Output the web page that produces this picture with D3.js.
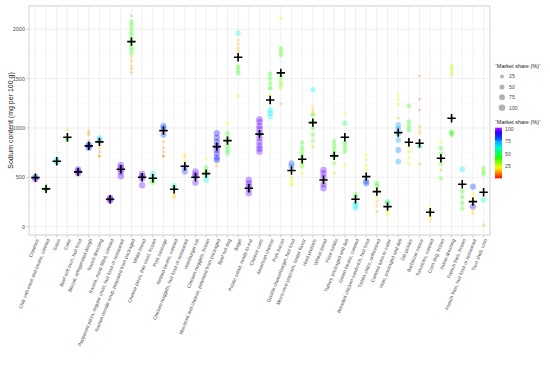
<!DOCTYPE html>
<html>
<head>
<meta charset="utf-8">
<script src="https://cdn.jsdelivr.net/npm/d3@7"></script>
<style>
  body { margin: 0; background: #fff; }
  text { font-family: "Liberation Sans", Arial, sans-serif; }
</style>
</head>
<body>
<svg id="canvas" width="550" height="365"></svg>
<script>
// food categories, left to right
const categories = [
  "Cheerios", "Chili with meat and beans, canned", "Salsa", "Cake",
  "Beef soft taco, fast food", "Biscuit, refrigerated dough", "Ranch dressing",
  "Ravioli, meat-filled, canned", "Pepperoni pizza, regular crust, fast food or restaurant",
  "Ramen noodle soup, prepared from packaged", "White bread",
  "Cheese pizza, thin crust, frozen", "Pork sausage", "Refried beans, canned",
  "Chicken nuggets, fast food or restaurant", "Hamburger roll", "Chicken nuggets, frozen",
  "Macaroni and cheese, prepared from packaged", "Beef hot dog", "Bagel",
  "Potato salad, ready-to-eat", "Cheese curls", "American cheese", "Pork bacon",
  "Double cheeseburger, fast food", "Microwave popcorn, butter flavor", "Hard pretzels",
  "Wheat bread", "Flour tortilla", "Turkey, packaged and deli", "Green beans, canned",
  "Breaded chicken sandwich, fast food", "Tortilla chips, unflavored", "Canned tuna in water",
  "Ham, packaged and deli", "Dill pickles", "Barbecue sauce", "Tomatoes, canned",
  "Corn dog, frozen", "Italian dressing", "French fries, frozen",
  "French fries, fast food or restaurant", "Taco shell, corn"
];

// market-share weighted mean sodium per category (black crosses)
const means = [
  497, 382, 663, 906, 555, 818, 859, 278, 582, 1875,
  501, 490, 973, 379, 612, 501, 537, 811, 872, 1717,
  389, 937, 1284, 1558, 568, 683, 1054, 473, 717, 906,
  278, 507, 355, 203, 953, 855, 845, 146, 693, 1099,
  430, 253, 349
];

// individual products per category: [sodium mg/100 g, market share %]
const products = [
  [[480, 99], [500, 97], [508, 60]],
  [[385, 48], [375, 40], [380, 30]],
  [[680, 70], [660, 68], [650, 60]],
  [[880, 45], [900, 42], [987, 20]],
  [[540, 97], [560, 99], [580, 95]],
  [[800, 90], [820, 82], [830, 87], [970, 15], [950, 14], [930, 12], [870, 10]],
  [[896, 70], [870, 72], [850, 15], [800, 14], [760, 12], [720, 12], [710, 10]],
  [[265, 99], [280, 98], [290, 96]],
  [[625, 97], [600, 98], [580, 96], [550, 97], [510, 96]],
  [[2078, 40], [2040, 42], [2000, 38], [1960, 45], [1920, 40], [1880, 42], [1840, 38],
   [1800, 44], [1758, 40], [1723, 16], [1680, 14], [1630, 15], [1600, 12], [1561, 14], [2136, 10]],
  [[534, 97], [510, 98], [490, 96], [420, 97]],
  [[534, 70], [500, 60], [470, 45], [446, 42]],
  [[1021, 84], [1000, 82], [930, 82], [860, 14], [800, 12], [760, 13], [720, 12], [710, 10]],
  [[416, 65], [390, 40], [338, 20], [318, 18], [298, 16]],
  [[600, 82], [558, 84], [727, 18], [700, 20], [659, 22]],
  [[558, 97], [530, 98], [507, 97], [446, 96]],
  [[683, 22], [600, 40], [560, 45], [520, 60], [473, 68]],
  [[947, 88], [900, 90], [860, 87], [820, 89], [780, 92], [740, 88], [700, 86], [676, 88], [615, 14]],
  [[1048, 22], [947, 40], [900, 42], [860, 38], [820, 40], [780, 45], [744, 42]],
  [[1960, 60], [1893, 16], [1850, 14], [1810, 15], [1774, 16], [1622, 40], [1590, 38], [1555, 42], [1325, 20]],
  [[473, 97], [440, 98], [410, 96], [380, 96], [339, 97]],
  [[1089, 97], [1060, 98], [1020, 96], [990, 97], [950, 96], [900, 98], [860, 96], [820, 97], [790, 96], [760, 96]],
  [[1548, 45], [1500, 42], [1450, 40], [1403, 44], [1335, 22], [1183, 65], [1150, 68], [1115, 66]],
  [[2112, 20], [1808, 40], [1774, 38], [1740, 40], [1521, 40], [1480, 35], [1440, 38], [1403, 30], [1244, 15]],
  [[643, 82], [610, 80], [507, 25], [470, 24], [440, 22], [423, 20]],
  [[852, 40], [800, 42], [760, 38], [720, 42], [680, 40], [640, 36], [608, 35], [541, 20]],
  [[1386, 65], [1216, 18], [1180, 16], [1149, 18], [1132, 40], [1060, 42], [1000, 40], [930, 38], [870, 35], [811, 30]],
  [[575, 96], [540, 98], [500, 96], [430, 97], [389, 96]],
  [[862, 40], [820, 42], [780, 38], [740, 40], [700, 36], [643, 34], [541, 18]],
  [[1149, 22], [1048, 55], [845, 45], [800, 42], [760, 40], [625, 20]],
  [[331, 40], [300, 50], [237, 62], [210, 65], [186, 66]],
  [[440, 84], [460, 82], [727, 22], [680, 20], [620, 24], [575, 22]],
  [[440, 42], [410, 40], [304, 20], [260, 18], [210, 16], [152, 14]],
  [[253, 55], [240, 50], [169, 22], [140, 24], [119, 20]],
  [[1335, 22], [1290, 24], [1234, 20], [1099, 16], [1031, 74], [990, 76], [940, 72], [879, 74], [777, 78], [659, 74]],
  [[1224, 40], [1064, 42], [1020, 40], [980, 44], [811, 24], [760, 26], [700, 22], [643, 24]],
  [[1528, 10], [1291, 8], [1183, 8], [1014, 16], [980, 18], [947, 16], [811, 62], [636, 14]],
  [[186, 22], [160, 24], [130, 26], [100, 22], [68, 20]],
  [[862, 22], [795, 40], [740, 38], [690, 42], [640, 38], [575, 14], [491, 36]],
  [[1629, 28], [1600, 30], [1570, 26], [1538, 30], [963, 42], [945, 44], [930, 40]],
  [[582, 68], [355, 42], [300, 40], [240, 42], [186, 38]],
  [[405, 84], [338, 20], [300, 22], [260, 18], [203, 90], [170, 20], [136, 18]],
  [[592, 38], [560, 36], [534, 40], [271, 62], [17, 14]]
];

const yTicks = [0, 500, 1000, 1500, 2000];
const shareBreaks = [25, 50, 75, 100];
const colorBreaks = [25, 50, 75, 100];

const svg = d3.select("#canvas");
const pLeft = 29, pRight = 490, pTop = 6, pBottom = 235;

const x = d3.scalePoint()
  .domain(categories)
  .range([pLeft, pRight])
  .padding(0.6);

const y = d3.scaleLinear()
  .domain([-85, 2236])
  .range([pBottom, pTop]);

// rainbow from red (0) to purple (100)
function shareColor(v) {
  return d3.hsl(Math.max(0, v) * 2.72, 1, 0.5).formatHex();
}
const r = d3.scaleSqrt().domain([0, 100]).range([0.6, 3.3]);

// panel grid
const grid = svg.append("g");
d3.range(-250, 2250, 250).forEach(function(v) {
  if (v < -85 || v > 2236) return;
  grid.append("line")
    .attr("x1", pLeft).attr("x2", pRight)
    .attr("y1", y(v)).attr("y2", y(v))
    .attr("stroke", v % 500 === 0 ? "#e6e6e6" : "#f3f3f3")
    .attr("stroke-width", v % 500 === 0 ? 0.6 : 0.4);
});
categories.forEach(function(c) {
  grid.append("line")
    .attr("x1", x(c)).attr("x2", x(c))
    .attr("y1", pTop).attr("y2", pBottom)
    .attr("stroke", "#e6e6e6")
    .attr("stroke-width", 0.6);
});

// product points
categories.forEach(function(c, i) {
  svg.append("g").selectAll("circle")
    .data(products[i])
    .join("circle")
    .attr("cx", x(c))
    .attr("cy", d => y(d[0]))
    .attr("r", d => r(d[1]))
    .attr("fill", d => shareColor(d[1]))
    .attr("opacity", 0.33);
});

// weighted means as crosses
svg.append("g").selectAll("path")
  .data(means)
  .join("path")
  .attr("d", (d, i) => {
    let cx = x(categories[i]), cy = y(d);
    return "M" + (cx - 4.2) + "," + cy + "H" + (cx + 4.2) + "M" + cx + "," + (cy - 4.2) + "V" + (cy + 4.2);
  })
  .attr("stroke", "#000")
  .attr("stroke-width", 1.6);

// panel border
svg.append("rect")
  .attr("x", pLeft).attr("y", pTop)
  .attr("width", pRight - pLeft).attr("height", pBottom - pTop)
  .attr("fill", "none")
  .attr("stroke", "#b3b3b3")
  .attr("stroke-width", 0.6);

// y axis
yTicks.forEach(function(v) {
  svg.append("line")
    .attr("x1", pLeft - 2.5).attr("x2", pLeft)
    .attr("y1", y(v)).attr("y2", y(v))
    .attr("stroke", "#b3b3b3").attr("stroke-width", 0.6);
  svg.append("text")
    .attr("x", pLeft - 4).attr("y", y(v))
    .attr("dy", "0.35em")
    .attr("text-anchor", "end")
    .attr("font-size", 5.5)
    .attr("fill", "#4d4d4d")
    .text(v);
});
svg.append("text")
  .attr("transform", "translate(11," + ((pTop + pBottom) / 2) + ") rotate(-90)")
  .attr("text-anchor", "middle")
  .attr("dy", "0.35em")
  .attr("font-size", 7)
  .attr("fill", "#1a1a1a")
  .text("Sodium content (mg per 100 g)");

// x axis
categories.forEach(function(c) {
  svg.append("line")
    .attr("x1", x(c)).attr("x2", x(c))
    .attr("y1", pBottom).attr("y2", pBottom + 2.5)
    .attr("stroke", "#b3b3b3").attr("stroke-width", 0.6);
  svg.append("text")
    .attr("transform", "translate(" + (x(c) + 2) + "," + (pBottom + 4) + ") rotate(-68)")
    .attr("text-anchor", "end")
    .attr("dy", "0.35em")
    .attr("font-size", 4.9)
    .attr("fill", "#4d4d4d")
    .text(c);
});

// size legend
const lg = svg.append("g");
lg.append("text")
  .attr("x", 495).attr("y", 67.5)
  .attr("font-size", 5.5).attr("fill", "#1a1a1a")
  .text("`Market share (%)`");
shareBreaks.forEach(function(v, i) {
  let cy = 76.5 + i * 10.4;
  lg.append("circle")
    .attr("cx", 502).attr("cy", cy)
    .attr("r", r(v))
    .attr("fill", "#000").attr("opacity", 0.3);
  lg.append("text")
    .attr("x", 509).attr("y", cy).attr("dy", "0.35em")
    .attr("font-size", 5.2).attr("fill", "#4d4d4d")
    .text(v);
});

// colour legend
lg.append("text")
  .attr("x", 495).attr("y", 123.5)
  .attr("font-size", 5.5).attr("fill", "#1a1a1a")
  .text("`Market share (%)`");
const cTop = 127.7, cBot = 178.3;
const cs = d3.scaleLinear().domain([103, 0.5]).range([cTop, cBot]);
const defs = svg.append("defs");
const grad = defs.append("linearGradient")
  .attr("id", "shareGrad")
  .attr("x1", 0).attr("y1", 1).attr("x2", 0).attr("y2", 0);
d3.range(0, 11).forEach(function(k) {
  let v = 0.5 + k / 10 * (103 - 0.5);
  grad.append("stop")
    .attr("offset", (k * 10) + "%")
    .attr("stop-color", shareColor(v));
});
lg.append("rect")
  .attr("x", 495).attr("y", cTop)
  .attr("width", 7).attr("height", cBot - cTop)
  .attr("fill", "url(#shareGrad)");
colorBreaks.forEach(function(v) {
  lg.append("line")
    .attr("x1", 495).attr("x2", 496.5)
    .attr("y1", cs(v)).attr("y2", cs(v))
    .attr("stroke", "#fff").attr("stroke-width", 0.5);
  lg.append("line")
    .attr("x1", 500.5).attr("x2", 502)
    .attr("y1", cs(v)).attr("y2", cs(v))
    .attr("stroke", "#fff").attr("stroke-width", 0.5);
  lg.append("text")
    .attr("x", 505).attr("y", cs(v)).attr("dy", "0.35em")
    .attr("font-size", 5.2).attr("fill", "#4d4d4d")
    .text(v);
});
</script>
</body>
</html>
